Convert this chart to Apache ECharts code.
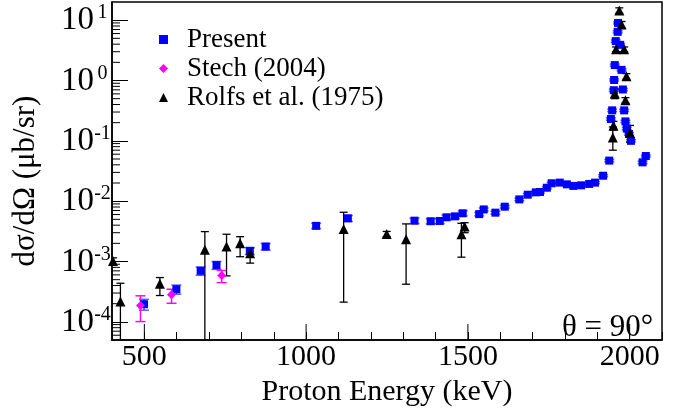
<!DOCTYPE html>
<html>
<head>
<meta charset="utf-8">
<script src="https://cdn.jsdelivr.net/npm/echarts@6/dist/echarts.min.js"></script>
<style>html,body{margin:0;padding:0;background:#fff;}#c{width:691px;height:415px;}</style>
</head>
<body>
<div id="c"></div>
<script>
// ---- data ----
// Present: [E (keV), dσ/dΩ (μb/sr), abs error]
const presentE = [499,599,674,723,826,875,1031,1129,1335,1385,1413,1434,1460,1484,1535,1549,1585,1614,1659,1685,1710,1723,1744,1759,1784,1806,1826,1850,1875,1893,1918,1937,1942,1946,1951,1952,1954,1957,1963,1964,1971,1975,1979,1983,1987,1991,1998,2004,2040,2050];
const presentY = [1.96e-4,3.47e-4,7.0e-4,8.7e-4,1.5e-3,1.77e-3,3.9e-3,5.2e-3,4.75e-3,4.65e-3,4.7e-3,5.4e-3,5.6e-3,6.3e-3,6.1e-3,7.3e-3,6.45e-3,8.1e-3,1.07e-2,1.28e-2,1.40e-2,1.42e-2,1.67e-2,1.98e-2,2.03e-2,1.90e-2,1.79e-2,1.83e-2,1.93e-2,2.03e-2,2.64e-2,4.7e-2,0.23,0.32,0.69,1.02,1.8,4.5,6.4,9.0,3.9,1.5,0.71,0.32,0.21,0.16,0.13,0.10,0.044,0.056];
const presentErr = [0.4e-4,0.6e-4,1.1e-4,1.3e-4,2.0e-4,2.2e-4,4e-4,6e-4,5e-4,4.5e-4,4.5e-4,5e-4,5e-4,6e-4,4e-4,4e-4,3.5e-4,4e-4,5e-4,6e-4,6e-4,6e-4,7e-4,8e-4,8e-4,8e-4,7e-4,7e-4,8e-4,8e-4,1e-3,2e-3,0.01,0.015,0.03,0.04,0.07,0.2,0.25,0.35,0.15,0.06,0.03,0.013,0.009,0.007,0.006,0.004,0.002,0.002];
// Stech (2004): [E, y, low, high]
const stechE = [488,584,739];
const stechY = [1.86e-4,2.8e-4,5.85e-4];
const stechLo = [1.01e-4,2.03e-4,4.47e-4];
const stechHi = [2.7e-4,3.47e-4,7.1e-4];
// Rolfs et al. (1975): [E, y, low, high]
const rolfsE = [403,426,548,687,754,796,827,1116,1249,1309,1480,1490,1948,1950,1954,1958,1968,1975,1983,1987,1990,2001];
const rolfsY = [1.02e-3,2.17e-4,4.26e-4,1.56e-3,1.77e-3,2.01e-3,1.37e-3,3.47e-3,2.87e-3,2.34e-3,2.83e-3,3.8e-3,0.114,0.18,0.61,3.3,14.5,8.5,3.3,0.47,1.18,0.136];
const rolfsLo = [0.9e-3,1e-6,2.73e-4,1e-6,5.78e-4,1.2e-3,9.4e-4,2.12e-4,2.6e-3,4.2e-4,1.18e-3,3.0e-3,0.07,0.15,0.5,3.0,13,7.5,3.0,0.42,1.05,0.095];
const rolfsHi = [1.15e-3,4.36e-4,5.42e-4,3.13e-3,2.83e-3,2.58e-3,1.66e-3,6.55e-3,3.15e-3,4.2e-3,4.3e-3,4.4e-3,0.17,0.21,0.72,3.6,16,9.5,3.6,0.52,1.3,0.18];
// axes
const xMin = 400, xMax = 2100, xMinorStep = 100;
const xMajorTicks = [500,1000,1500,2000];
const yMin = 5e-5, yMax = 20;
const yDecades = [-5,-4,-3,-2,-1,0,1];

const FONT = 'Liberation Serif';

const presentPts = presentE.map((e,i)=>[e, presentY[i]]);
const presentBars = presentE.map((e,i)=>[e, presentY[i]-presentErr[i], presentY[i]+presentErr[i]]);
const stechPts = stechE.map((e,i)=>[e, stechY[i]]);
const stechBars = stechE.map((e,i)=>[e, stechLo[i], stechHi[i]]);
const rolfsPts = rolfsE.map((e,i)=>[e, rolfsY[i]]);
const rolfsBars = rolfsE.map((e,i)=>[e, rolfsLo[i], rolfsHi[i]]);

const yMinorVals = [];
yDecades.forEach(d => { for (let k=2;k<=9;k++){ const v=k*Math.pow(10,d); if (v>yMin && v<yMax) yMinorVals.push([xMin, v]); } });

function errBar(color, cap, width){
  return function(params, api){
    const x = api.value(0);
    const lo = Math.max(api.value(1), 1e-9);
    const hi = api.value(2);
    const pLo = api.coord([x, lo]);
    const pHi = api.coord([x, hi]);
    const cs = params.coordSys;
    const bottom = cs.y + cs.height;
    const yLo = Math.min(pLo[1], bottom + 5);
    const st = {stroke: color, lineWidth: width};
    const children = [
      {type:'line', shape:{x1:pHi[0], y1:pHi[1], x2:pHi[0], y2:yLo}, style: st},
      {type:'line', shape:{x1:pHi[0]-cap, y1:pHi[1], x2:pHi[0]+cap, y2:pHi[1]}, style: st}
    ];
    if (pLo[1] <= bottom) children.push({type:'line', shape:{x1:pLo[0]-cap, y1:pLo[1], x2:pLo[0]+cap, y2:pLo[1]}, style: st});
    return {type:'group', children};
  };
}

const chart = echarts.init(document.getElementById('c'), null, {renderer:'canvas'});
chart.setOption({
  animation: false,
  backgroundColor: '#fff',
  title: {
    text: 'θ = 90°', left: 557, top: 307,
    textStyle: {fontFamily: FONT, fontSize: 31, fontWeight: 'normal', color: '#000'}
  },
  legend: {
    orient: 'vertical', left: 154, top: 21, itemWidth: 9, itemHeight: 9, itemGap: 2,
    data: ['Present','Stech (2004)','Rolfs et al. (1975)'],
    formatter: n => '{g|}' + n,
    textStyle: {fontFamily: FONT, fontSize: 27, color: '#000', lineHeight: 26.5, rich: {g: {width: 14}}}
  },
  grid: {left: 112, right: 29, top: 2, bottom: 75, show: true, borderColor: '#000', borderWidth: 1.5, backgroundColor: 'transparent'},
  xAxis: {
    type: 'value', min: xMin, max: xMax, interval: xMinorStep,
    name: 'Proton Energy (keV)', nameLocation: 'middle', nameGap: 32,
    nameTextStyle: {fontFamily: FONT, fontSize: 30, color: '#000'},
    axisLine: {lineStyle: {color: '#000', width: 1.5}},
    axisTick: {inside: true, length: 8, lineStyle: {color: '#000', width: 1}},
    splitLine: {show: false},
    axisLabel: {
      fontFamily: FONT, fontSize: 30, color: '#000', margin: 2,
      formatter: v => (xMajorTicks.indexOf(v) >= 0 ? String(v) : '')
    }
  },
  yAxis: {
    type: 'log', logBase: 10, min: yMin, max: yMax,
    name: 'dσ/dΩ (μb/sr)', nameLocation: 'middle', nameGap: 71,
    nameTextStyle: {fontFamily: FONT, fontSize: 31, color: '#000', padding: [0, 20, 0, 0]},
    axisLine: {lineStyle: {color: '#000', width: 1.5}},
    axisTick: {inside: true, length: 16, lineStyle: {color: '#000', width: 1}},
    splitLine: {show: false},
    axisLabel: {
      margin: 1, showMinLabel: false, showMaxLabel: false,
      formatter: v => {
        const l = Math.log10(v); const e = Math.round(l);
        if (Math.abs(l - e) > 1e-6) return '';
        return '{b|10}{s|' + e + '}';
      },
      rich: {
        b: {fontFamily: FONT, fontSize: 33, color: '#000', lineHeight: 34, verticalAlign: 'bottom'},
        s: {fontFamily: FONT, fontSize: 20, color: '#000', width: 17, align: 'left', lineHeight: 34, verticalAlign: 'top', padding: [0,0,14,0]}
      }
    }
  },
  series: [
    {type: 'custom', name: 'xmajor', silent: true, data: xMajorTicks.map(v=>[v, yMin]),
      renderItem: (params, api) => { const p = api.coord([api.value(0), yMin]); const b = params.coordSys.y + params.coordSys.height;
        return {type:'line', shape:{x1:p[0], y1:b, x2:p[0], y2:b-16}, style:{stroke:'#000', lineWidth:1}}; }},
    {type: 'custom', name: 'yminor', silent: true, data: yMinorVals,
      renderItem: (params, api) => { const p = api.coord([xMin, api.value(1)]); const l = params.coordSys.x;
        return {type:'line', shape:{x1:l, y1:p[1], x2:l+8, y2:p[1]}, style:{stroke:'#000', lineWidth:1}}; }},
    {type: 'custom', name: 'presentErr', clip: true, silent: true, data: presentBars, renderItem: errBar('rgba(40,40,255,0.75)', 5, 1.5)},
    {type: 'custom', name: 'stechErr', clip: true, silent: true, data: stechBars, renderItem: errBar('#ff00ff', 5, 1.5)},
    {type: 'custom', name: 'rolfsErr', clip: true, silent: true, data: rolfsBars, renderItem: errBar('#000', 4, 1.3)},
    {type: 'scatter', name: 'Present', data: presentPts, symbol: 'rect', symbolSize: 8, itemStyle: {color: '#0000ff', opacity: 1}},
    {type: 'scatter', name: 'Stech (2004)', data: stechPts, symbol: 'diamond', symbolSize: 9, itemStyle: {color: '#ff00ff', opacity: 1}},
    {type: 'scatter', name: 'Rolfs et al. (1975)', data: rolfsPts, symbol: 'triangle', symbolSize: 10, itemStyle: {color: '#000', opacity: 1}}
  ]
});
</script>
</body>
</html>
